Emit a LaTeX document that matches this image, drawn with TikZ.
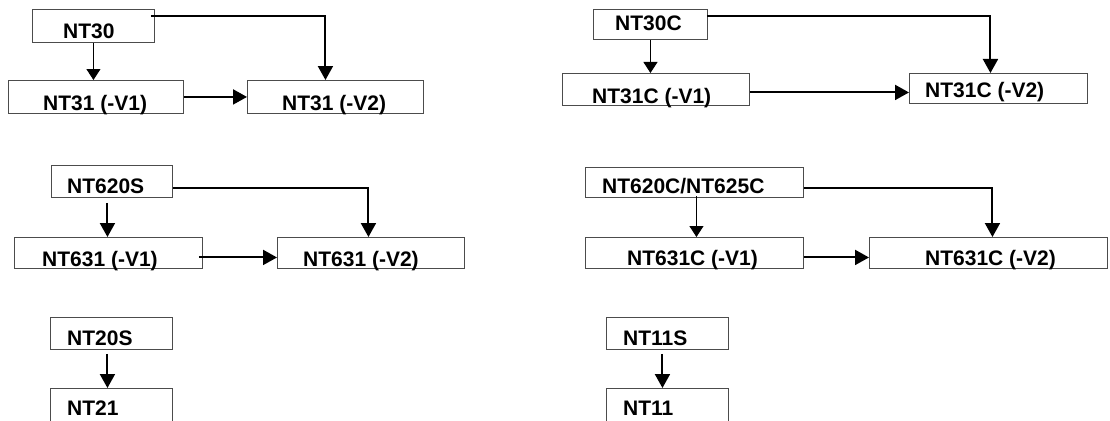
\documentclass[tikz,border=0pt]{standalone}
\usepackage{fontspec}
\setmainfont{Liberation Sans}
\usepackage{tikz}
\usetikzlibrary{shapes, arrows, arrows.meta, positioning}

\tikzset{
  hop/.style={draw=black!70, line width=0.9pt, rectangle, inner sep=0pt, anchor=north west},
  chu/.style={anchor=base west, inner sep=0pt, font=\bfseries\fontsize{21}{25}\selectfont},
  muiten/.style={line width=2pt, -{Triangle[width=15pt,length=14pt]}},
  muitenmanh/.style={line width=1pt, -{Triangle[width=14pt,length=11pt]}}
}

\begin{document}
\begin{tikzpicture}[x=1pt, y=-1pt]
        \clip (0,0) rectangle (1110,420);
        \fill[white] (0,0) rectangle (1110,420);

        % Nhóm NT30
        \node[hop, minimum width=122pt, minimum height=33pt] (nt30) at (32,9) {};
        \node[hop, minimum width=175pt, minimum height=33pt] (nt31a) at (8,80) {};
        \node[hop, minimum width=176pt, minimum height=33pt] (nt31b) at (247,80) {};
        \node[chu] (t30) at (63,38) {NT30};
        \node[chu] (t31a) at (43,110) {NT31 (-V1)};
        \node[chu] (t31b) at (282,110) {NT31 (-V2)};
        \draw[muitenmanh] (nt30.south) -- (nt30.south |- nt31a.north);
        \draw[muiten] ([xshift=-4pt,yshift=-7pt]nt30.north east) -| ([xshift=-10pt]nt31b.north);
        \draw[muiten] (nt31a.east) -- (nt31a.east -| nt31b.west);

        % Nhóm NT30C
        \node[hop, minimum width=114pt, minimum height=30pt] (nt30c) at (593,9) {};
        \node[hop, minimum width=187pt, minimum height=32pt] (nt31ca) at (562,73) {};
        \node[hop, minimum width=178pt, minimum height=30pt] (nt31cb) at (909,73) {};
        \node[chu] (t30c) at (615,31) {NT30C};
        \node[chu] (t31ca) at (592,103) {NT31C (-V1)};
        \node[chu] (t31cb) at (925,97) {NT31C (-V2)};
        \draw[muitenmanh] (nt30c.south) -- (nt30c.south |- nt31ca.north);
        \draw[muiten] ([xshift=-1pt,yshift=-7pt]nt30c.north east) -| ([xshift=-8pt]nt31cb.north);
        \draw[muiten] ([yshift=-3pt]nt31ca.east) -- ([yshift=-3pt]nt31ca.east -| nt31cb.west);

        % Nhóm NT620S
        \node[hop, minimum width=121pt, minimum height=32pt] (nt620s) at (51,165) {};
        \node[hop, minimum width=188pt, minimum height=31pt] (nt631a) at (14,237) {};
        \node[hop, minimum width=187pt, minimum height=31pt] (nt631b) at (277,237) {};
        \node[chu] (t620s) at (67,193) {NT620S};
        \node[chu] (t631a) at (42,266) {NT631 (-V1)};
        \node[chu] (t631b) at (303,266) {NT631 (-V2)};
        \draw[muiten] ([xshift=-4.5pt,yshift=-5pt]nt620s.south) -- ([xshift=-4.5pt]nt620s.south |- nt631a.north);
        \draw[muiten] ([yshift=-7pt]nt620s.east) -| ([xshift=-2.5pt]nt631b.north);
        \draw[muiten] ([xshift=-4pt,yshift=-4.5pt]nt631a.east) -- ([yshift=-4.5pt]nt631a.east -| nt631b.west);

        % Nhóm NT620C/NT625C
        \node[hop, minimum width=218pt, minimum height=30pt] (nt620c) at (585,167) {};
        \node[hop, minimum width=218pt, minimum height=31pt] (nt631ca) at (585,237) {};
        \node[hop, minimum width=238pt, minimum height=31pt] (nt631cb) at (869,237) {};
        \node[chu] (t620c) at (602,193) {NT620C/NT625C};
        \node[chu] (t631ca) at (627,265) {NT631C (-V1)};
        \node[chu] (t631cb) at (925,265) {NT631C (-V2)};
        \draw[muitenmanh] ([xshift=2pt,yshift=2pt]nt620c.south) -- ([xshift=2pt]nt620c.south |- nt631ca.north);
        \draw[muiten] ([yshift=-6pt]nt620c.east) -| ([xshift=4pt]nt631cb.north);
        \draw[muiten] ([yshift=-4.5pt]nt631ca.east) -- ([yshift=-4.5pt]nt631ca.east -| nt631cb.west);

        % NT20S và NT11S
        \node[hop, minimum width=122pt, minimum height=32pt] (nt20s) at (50,317) {};
        \node[hop, minimum width=122pt, minimum height=40pt] (nt21) at (50,388) {};
        \node[chu] (t20s) at (67,345) {NT20S};
        \node[chu] (t21) at (67,415) {NT21};
        \draw[muiten] ([xshift=-4pt,yshift=-4pt]nt20s.south) -- ([xshift=-4pt]nt20s.south |- nt21.north);

        \node[hop, minimum width=122pt, minimum height=32pt] (nt11s) at (606,317) {};
        \node[hop, minimum width=122pt, minimum height=40pt] (nt11) at (606,388) {};
        \node[chu] (t11s) at (623,345) {NT11S};
        \node[chu] (t11) at (623,415) {NT11};
        \draw[muiten] ([xshift=-5pt,yshift=-4pt]nt11s.south) -- ([xshift=-5pt]nt11s.south |- nt11.north);
      \end{tikzpicture}
\end{document}
